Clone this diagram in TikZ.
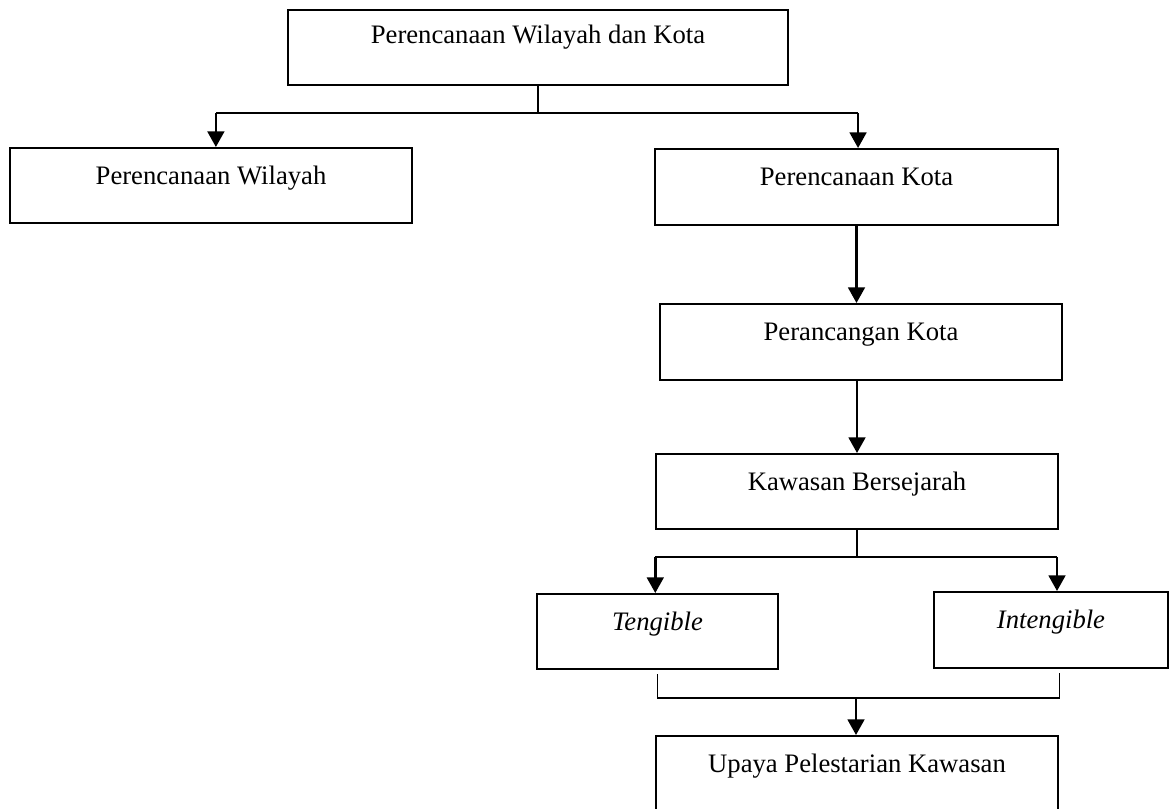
\documentclass[tikz,border=0pt]{standalone}
\usepackage{fontspec}
\setmainfont{Liberation Serif}
\usetikzlibrary{arrows.meta}

\tikzset{
	kotak/.style={draw, line width=1pt, anchor=north, inner xsep=0pt, inner ysep=0pt,
		text height=16.2pt, font=\fontsize{12}{14}\selectfont},
	garis/.style={line width=0.5pt},
	panah/.style={line width=1.1pt, -{Triangle[length=7pt, width=7.5pt]}},
}

\begin{document}
\begin{tikzpicture}[x=0.45pt, y=-0.45pt]
	\useasboundingbox (0, 0) rectangle (1170, 808);
	\coordinate (c1) at (538, 113);
	\coordinate (c2) at (857, 557);
	\coordinate (c3) at (856, 698);
	%
	\node[kotak, text height=15pt, text depth=18.75pt, minimum width=225pt] (pwk) at (538, 9) {Perencanaan Wilayah dan Kota};
	\node[kotak, text depth=17.55pt, minimum width=180.9pt] (pw) at (211, 147) {Perencanaan Wilayah};
	\node[kotak, text depth=18pt, minimum width=181.35pt] (pk) at (856.5, 148) {Perencanaan Kota};
	\node[kotak, text depth=18pt, minimum width=180.9pt] (rk) at (861, 303) {Perancangan Kota};
	\node[kotak, text depth=17.55pt, minimum width=180.9pt] (kb) at (857, 453) {Kawasan Bersejarah};
	\node[kotak, text depth=17.55pt, minimum width=108.45pt] (tg) at (657.5, 593) {\itshape Tengible};
	\node[kotak, text depth=18pt, minimum width=105.3pt] (itg) at (1051, 591) {\itshape Intengible};
	\node[kotak, text depth=18.45pt, minimum width=180.9pt] (upk) at (857, 735) {Upaya Pelestarian Kawasan};
	%
	\draw[garis] (pwk.south) -- (c1);
	\draw[garis] (c1) -| ([xshift=2.2pt]pw.north |- c1);
	\draw[garis] (c1) -| ([xshift=0.7pt]pk.north |- c1);
	\draw[panah] ([xshift=2.2pt]pw.north |- c1) -- ([xshift=2.2pt]pw.north);
	\draw[panah] ([xshift=0.7pt]pk.north |- c1) -- ([xshift=0.7pt]pk.north);
	\draw[panah] (pk.south) -- (pk.south |- rk.north);
	\draw[panah] (kb.north |- rk.south) -- (kb.north);
	%
	\draw[garis] (kb.south) -- (c2);
	\draw[garis] (c2) -| ([xshift=-1pt]tg.north |- c2);
	\draw[garis] (c2) -| ([xshift=2.7pt]itg.north |- c2);
	\draw[panah] ([xshift=-1pt]tg.north |- c2) -- ([xshift=-1pt]tg.north);
	\draw[panah] ([xshift=2.7pt]itg.north |- c2) -- ([xshift=2.7pt]itg.north);
	%
	\draw[garis] ([yshift=-1.8pt]tg.south) |- (c3) -| ([xshift=4pt, yshift=-1.8pt]itg.south);
	\draw[panah] (c3) -- (c3 |- upk.north);
\end{tikzpicture}
\end{document}
